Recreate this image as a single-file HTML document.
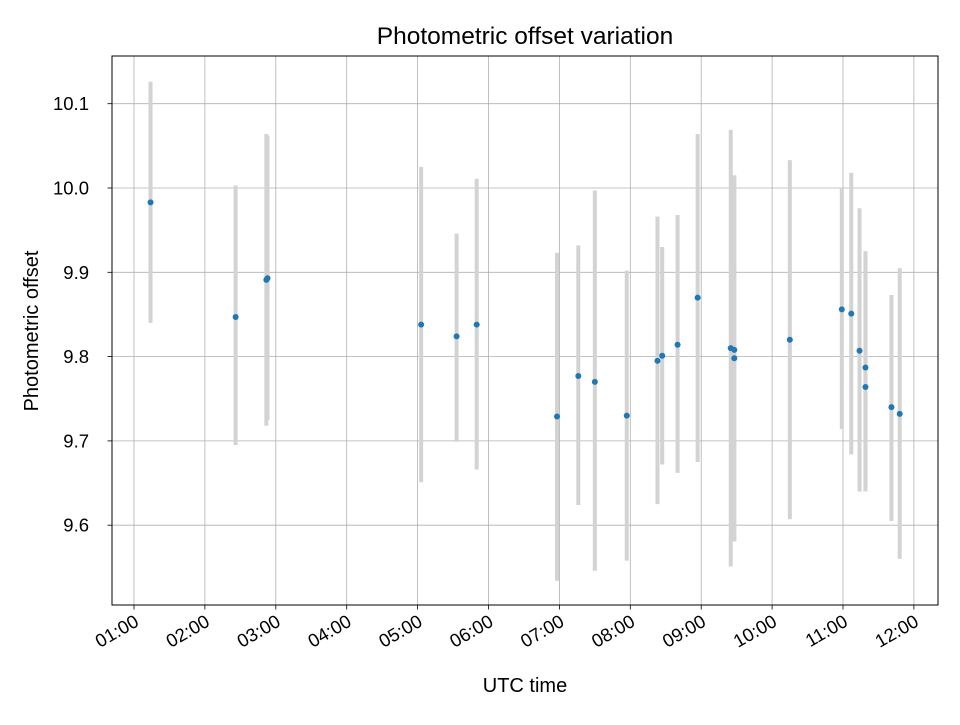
<!DOCTYPE html>
<html><head><meta charset="utf-8"><style>
body{margin:0;background:#fff;font-family:"Liberation Sans",sans-serif}
svg text{font-family:"Liberation Sans",sans-serif}
</style></head><body>
<svg id="chart" width="960" height="720" xmlns="http://www.w3.org/2000/svg">
<rect width="960" height="720" fill="#fff"/>
<g id="grid"></g><g id="bars"></g><g id="pts"></g><g id="axes"></g>
<text x="525" y="44" text-anchor="middle" font-size="24.5">Photometric offset variation</text>
<text x="525" y="692" text-anchor="middle" font-size="20">UTC time</text>
<text transform="translate(38,331) rotate(-90)" text-anchor="middle" font-size="20">Photometric offset</text>
</svg>
<script>
const times=["01:14","02:26","02:52","02:53","05:03","05:33","05:50","06:58","07:16","07:30","07:57","08:23","08:27","08:40","08:57","09:25","09:28","09:28","10:15","10:59","11:07","11:14","11:19","11:19","11:41","11:48"];
const offsets=[9.983,9.847,9.891,9.893,9.838,9.824,9.838,9.729,9.777,9.770,9.730,9.795,9.801,9.814,9.870,9.810,9.808,9.798,9.820,9.856,9.851,9.807,9.787,9.764,9.740,9.732];
const errHigh=[10.126,10.003,10.064,10.062,10.025,9.946,10.011,9.923,9.932,9.997,9.902,9.966,9.930,9.968,10.064,10.069,10.015,10.015,10.033,9.999,10.018,9.976,9.925,9.925,9.873,9.905];
const errLow=[9.840,9.695,9.718,9.725,9.651,9.699,9.666,9.534,9.624,9.546,9.558,9.625,9.672,9.662,9.675,9.551,9.581,9.581,9.607,9.714,9.684,9.640,9.640,9.640,9.605,9.560];
const yTicks=[9.6,9.7,9.8,9.9,10.0,10.1];
const xTickLabels=["01:00","02:00","03:00","04:00","05:00","06:00","07:00","08:00","09:00","10:00","11:00","12:00"];
const L=112,R=938,T=56,B=605;
const NS="http://www.w3.org/2000/svg";
function hrs(s){const p=s.split(":");return +p[0]+(+p[1])/60;}
function xs(h){return 134+(h-1)*70.9;}
function ys(v){return 188-(v-10.0)*843;}
function mk(tag,attrs,parent){const e=document.createElementNS(NS,tag);for(const k in attrs)e.setAttribute(k,attrs[k]);document.getElementById(parent).appendChild(e);return e;}
const g="grid";
xTickLabels.forEach(function(lab){
  const x=xs(hrs(lab));
  const l=mk("line",{x1:x,x2:x,y1:T,y2:B,stroke:"#b0b0b0","stroke-width":0.8},g);
  
  
  const t=mk("line",{x1:x,x2:x,y1:B,y2:B+4.5,stroke:"#000","stroke-width":0.8},"axes");
  
  
  const tx=mk("text",{x:0,y:0,"text-anchor":"end","font-size":18.5,transform:"translate("+(x+6)+","+(B+20)+") rotate(-30)"},"axes");
  tx.textContent=lab;
  
  
});
yTicks.forEach(function(v){
  const y=ys(v);
  const l=mk("line",{x1:L,x2:R,y1:y,y2:y,stroke:"#b0b0b0","stroke-width":0.8},g);
  
  
  const t=mk("line",{x1:L-4.5,x2:L,y1:y,y2:y,stroke:"#000","stroke-width":0.8},"axes");
  
  
  const tx=mk("text",{x:L-24,y:y+6.5,"text-anchor":"end","font-size":18.5},"axes");
  tx.setAttribute("x",L-23);
  tx.textContent=v.toFixed(1);
  
  
});
const fr=mk("rect",{x:L,y:T,width:R-L,height:B-T,fill:"none",stroke:"#000","stroke-width":1},"axes");


times.forEach(function(tm,i){
  const x=xs(hrs(tm));
  const b=mk("line",{x1:x,x2:x,y1:ys(errHigh[i]),y2:ys(errLow[i]),stroke:"#d3d3d3","stroke-width":4},"bars");
  
  
  const c=mk("circle",{cx:x,cy:ys(offsets[i]),r:3,fill:"#1f77b4"},"pts");
  
  
});
</script>
</body></html>
